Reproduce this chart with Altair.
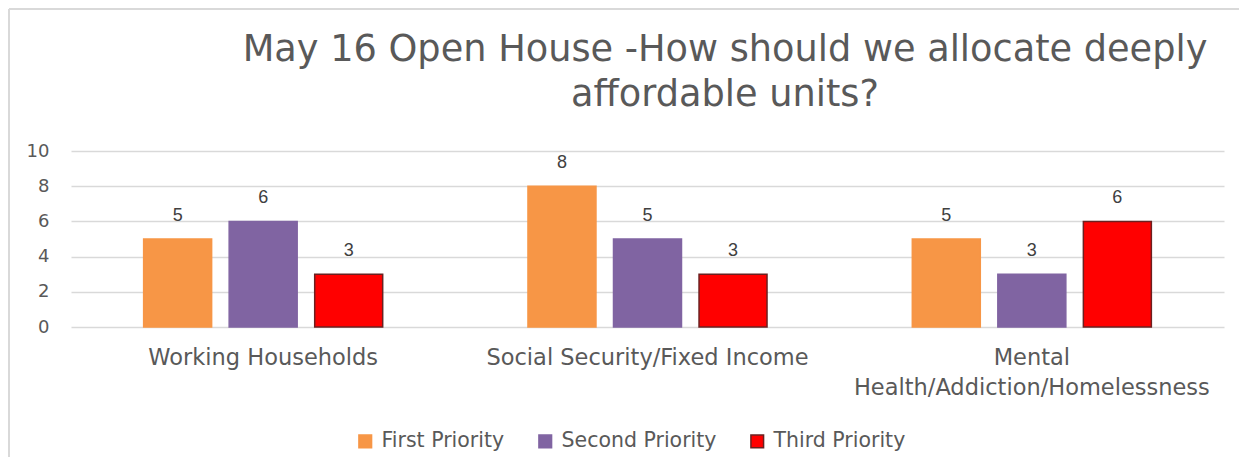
import altair as alt
import pandas as pd

categories = ["Working Households", "Social Security/Fixed Income", "Mental Health/Addiction/Homelessness"]
series = ["First Priority", "Second Priority", "Third Priority"]
first = [5, 8, 5]
second = [6, 5, 3]
third = [3, 3, 6]
y_ticks = [0, 2, 4, 6, 8, 10]
title_lines = ["May 16 Open House -How should we allocate deeply", "affordable units?"]

fills = ["#F79646", "#8064A2", "#FF0000"]
strokes = ["#F79646", "#8064A2", "#6B2020"]

rows = []
for i, c in enumerate(categories):
    for s, vals in zip(series, [first, second, third]):
        rows.append({"category": c, "series": s, "value": vals[i]})
df = pd.DataFrame(rows)

FONT = "DejaVu Sans"
GRAY = "#595959"

x = alt.X("category:N", sort=categories, title=None,
          scale=alt.Scale(paddingInner=0.378, paddingOuter=0.189),
          axis=alt.Axis(labelAngle=0, ticks=False, domain=False, labelFontSize=22.5,
                        labelColor=GRAY, labelFont=FONT, labelPadding=19, labelLineHeight=30,
                        labelLimit=500, labelOverlap=False,
                        labelExpr="datum.value == 'Mental Health/Addiction/Homelessness' ? ['Mental', 'Health/Addiction/Homelessness'] : datum.value"))
xo = alt.XOffset("series:N", sort=series, scale=alt.Scale(paddingInner=0.205, paddingOuter=0))
y = alt.Y("value:Q", title=None, scale=alt.Scale(domain=[0, 10], nice=False),
          axis=alt.Axis(values=y_ticks, tickCount=20, format="d", ticks=False, domain=False, labelFontSize=18,
                        labelColor=GRAY, labelFont=FONT, labelPadding=22, labelOverlap=False,
                        gridColor="#d9d9d9", gridWidth=1.5))

leg = alt.Legend(title=None, orient="none", direction="horizontal",
                 legendX=284, legendY=280, symbolType="square", symbolSize=160,
                 symbolStrokeWidth=1.5, labelFontSize=20.5, labelColor=GRAY,
                 labelFont=FONT, labelOffset=6, columnPadding=30)

bars = alt.Chart(df).mark_bar(strokeWidth=1.5).encode(
    x=x, xOffset=xo, y=y,
    fill=alt.Fill("series:N", sort=series, scale=alt.Scale(domain=series, range=fills), legend=leg),
    stroke=alt.Stroke("series:N", sort=series, scale=alt.Scale(domain=series, range=strokes), legend=leg),
)

labels = alt.Chart(df).mark_text(baseline="bottom", dy=-14, fontSize=18, color="#404040", font="Liberation Sans").encode(
    x=x, xOffset=xo, y=y, text="value:Q")

one = pd.DataFrame({"a": [0]})
title = alt.Chart(one).mark_text(text=title_lines, fontSize=36.7, font=FONT, color=GRAY,
                                 lineHeight=45, baseline="alphabetic", align="center").encode(
    x=alt.value(654), y=alt.value(-90))
frame_left = alt.Chart(one).mark_rule(color="#d9d9d9", strokeWidth=2, clip=False).encode(
    x=alt.value(-62), y=alt.value(-142), y2=alt.value(330))
frame_top = alt.Chart(one).mark_rule(color="#d9d9d9", strokeWidth=2, clip=False).encode(
    x=alt.value(-62), x2=alt.value(1168), y=alt.value(-142))

chart = alt.layer(bars, labels, title, frame_left, frame_top).properties(
    width=1153, height=176,
    autosize=alt.AutoSizeParams(type="none"),
    padding={"left": 63, "top": 143, "right": 18, "bottom": 130},
).configure_view(stroke=None)

chart.save("out.html", embed_options={"renderer": "svg", "actions": False})
